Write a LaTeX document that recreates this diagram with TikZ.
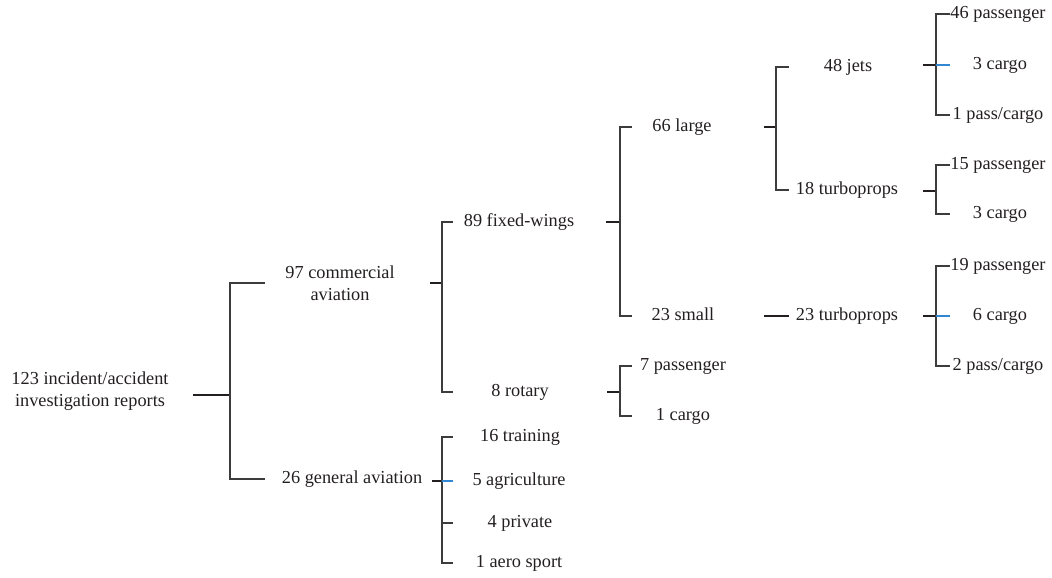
\documentclass[tikz,border=0pt]{standalone}
\usepackage{fontspec}
\setmainfont{Liberation Serif}
\usepackage{tikz}
\definecolor{ink}{RGB}{35,31,32}
\definecolor{rule}{RGB}{60,60,60}
\definecolor{tickblue}{RGB}{50,135,210}

\begin{document}
\fontsize{18.3}{22}\selectfont
\begin{tikzpicture}
[x=1pt,y=-1pt,line width=1.2pt,draw=rule,
 lbl/.style={anchor=mid,inner sep=0pt,text=ink},
 twoline/.style={lbl,anchor=center,align=center},
 hl/.style={draw=tickblue},]

\useasboundingbox (0,0) rectangle (1052,578);

%Reports and the two branches
\node[twoline] (root) at (90,391) {123 incident/accident\\investigation reports};
\node[twoline] (comm) at (340,283) {97 commercial\\aviation};
\node[lbl] (gen) at (352,479) {26 general aviation};

%Commercial: fixed-wings and rotary
\node[lbl] (fixed) at (519,222) {89 fixed-wings};
\node[lbl] (rotary) at (520,392) {8 rotary};
\node[lbl] (large) at (682,127) {66 large};
\node[lbl] (small) at (683,316) {23 small};
\node[lbl] (rpass) at (683,366) {7 passenger};
\node[lbl] (rcargo) at (683,416) {1 cargo};

%General aviation
\node[lbl] (train) at (520,437) {16 training};
\node[lbl] (agri) at (519,481) {5 agriculture};
\node[lbl] (priv) at (520,523) {4 private};
\node[lbl] (aero) at (519,563) {1 aero sport};

%Large and small aircraft
\node[lbl] (jets) at (848,67) {48 jets};
\node[lbl] (ltp) at (847,190) {18 turboprops};
\node[lbl] (stp) at (847,316) {23 turboprops};

%Use of the aircraft
\node[lbl] (jpass) at (998,14) {46 passenger};
\node[lbl] (jcargo) at (1000,65) {3 cargo};
\node[lbl] (jpc) at (998,115) {1 pass/cargo};
\node[lbl] (tpass) at (998,165) {15 passenger};
\node[lbl] (tcargo) at (1000,214) {3 cargo};
\node[lbl] (spass) at (998,266) {19 passenger};
\node[lbl] (scargo) at (1000,316) {6 cargo};
\node[lbl] (spc) at (998,366) {2 pass/cargo};

%Junctions
\coordinate (j0) at (230,395);
\coordinate (j1) at (442,283);
\coordinate (j2) at (442,481);
\coordinate (j3) at (620,222);
\coordinate (j4) at (620,392);
\coordinate (j5) at (776,127);
\coordinate (j6) at (936,65);
\coordinate (j7) at (936,191);
\coordinate (j8) at (936,316);

%Drawing the brackets
\draw[ink] (j0) -- ++(-37,0);
\draw ([xshift=35pt]j0 |- comm) -- (j0 |- comm) -- (j0 |- gen.mid) -- ++(35,0);

\draw[ink] (j1) -- ++(-12,0);
\draw ([xshift=11pt]j1 |- fixed.mid) -- (j1 |- fixed.mid) -- (j1 |- rotary.mid) -- ++(11,0);

\draw[ink] (j2) -- ++(-10,0);
\draw ([xshift=11pt]j2 |- train.mid) -- (j2 |- train.mid) -- (j2 |- aero.mid) -- ++(11,0);
\draw (j2 |- priv.mid) -- ++(11,0);
\draw[hl] (j2) -- ++(11,0);

\draw[ink] (j3) -- ++(-14,0);
\draw ([xshift=12pt]j3 |- large.mid) -- (j3 |- large.mid) -- (j3 |- small.mid) -- ++(12,0);

\draw[ink] (j4) -- ++(-13,0);
\draw ([xshift=12pt]j4 |- rpass.mid) -- (j4 |- rpass.mid) -- (j4 |- rcargo.mid) -- ++(12,0);

\draw[ink] (j5) -- ++(-12,0);
\draw ([xshift=13pt]j5 |- jets.mid) -- (j5 |- jets.mid) -- (j5 |- ltp.mid) -- ++(13,0);

\draw[ink] ([xshift=-12pt]j5 |- small.mid) -- ([xshift=13pt]j5 |- stp.mid);

\draw[ink] (j6) -- ++(-13,0);
\draw ([xshift=14pt]j6 |- jpass.mid) -- (j6 |- jpass.mid) -- (j6 |- jpc.mid) -- ++(14,0);
\draw[hl] (j6) -- ++(14,0);

\draw[ink] (j7) -- ++(-13,0);
\draw ([xshift=14pt]j7 |- tpass.mid) -- (j7 |- tpass.mid) -- (j7 |- tcargo.mid) -- ++(14,0);

\draw[ink] (j8) -- ++(-13,0);
\draw ([xshift=14pt]j8 |- spass.mid) -- (j8 |- spass.mid) -- (j8 |- spc.mid) -- ++(14,0);
\draw[hl] (j8) -- ++(14,0);

\end{tikzpicture}
\end{document}
